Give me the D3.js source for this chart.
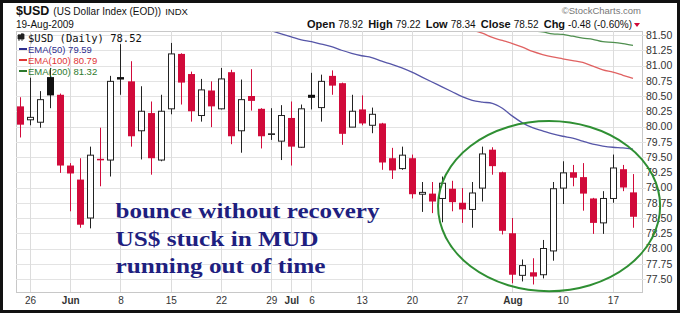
<!DOCTYPE html>
<html>
<head>
<meta charset="utf-8">
<script src="https://cdn.jsdelivr.net/npm/d3@7"></script>
<style>
  body { margin: 0; background: #fff; }
  svg text { font-family: "Liberation Sans", Arial, sans-serif; }
</style>
</head>
<body>
<svg id="chart" width="680" height="313"></svg>
<script>
// trading days, 22 May - 19 Aug 2009
const dates = [
  '2009-05-22', '2009-05-26', '2009-05-27', '2009-05-28', '2009-05-29',
  '2009-06-01', '2009-06-02', '2009-06-03', '2009-06-04', '2009-06-05',
  '2009-06-08', '2009-06-09', '2009-06-10', '2009-06-11', '2009-06-12',
  '2009-06-15', '2009-06-16', '2009-06-17', '2009-06-18', '2009-06-19',
  '2009-06-22', '2009-06-23', '2009-06-24', '2009-06-25', '2009-06-26',
  '2009-06-29', '2009-06-30', '2009-07-01', '2009-07-02',
  '2009-07-06', '2009-07-07', '2009-07-08', '2009-07-09', '2009-07-10',
  '2009-07-13', '2009-07-14', '2009-07-15', '2009-07-16', '2009-07-17',
  '2009-07-20', '2009-07-21', '2009-07-22', '2009-07-23', '2009-07-24',
  '2009-07-27', '2009-07-28', '2009-07-29', '2009-07-30', '2009-07-31',
  '2009-08-03', '2009-08-04', '2009-08-05', '2009-08-06', '2009-08-07',
  '2009-08-10', '2009-08-11', '2009-08-12', '2009-08-13', '2009-08-14',
  '2009-08-17', '2009-08-18', '2009-08-19'
];

const opens = [
  80.33, 80.11, 80.07, 80.81, 80.52, 79.36, 79.13, 78.50, 79.47, 79.45,
  80.81, 80.74, 79.93, 80.22, 79.45, 80.29, 81.19, 80.86, 80.18, 80.59,
  80.29, 80.89, 79.93, 80.50, 80.29, 79.87, 79.76, 80.14, 79.66, 80.52,
  80.31, 80.83, 80.71, 79.99, 80.28, 80.02, 80.05, 79.48, 79.31, 79.48,
  78.89, 78.90, 78.82, 78.98, 78.75, 78.64, 78.99, 79.62, 79.25, 78.25,
  77.56, 77.61, 77.57, 77.96, 78.99, 79.25, 79.17, 78.82, 78.42, 78.82,
  79.30, 78.92
];
const highs = [
  80.48, 80.80, 80.58, 80.96, 80.54, 79.40, 79.48, 79.67, 79.98, 80.83,
  81.35, 81.07, 80.66, 80.41, 80.52, 81.37, 81.20, 80.90, 80.78, 80.74,
  80.96, 80.93, 80.77, 80.94, 80.30, 80.30, 80.35, 80.41, 80.36, 80.88,
  80.85, 80.92, 80.72, 80.52, 80.51, 80.31, 80.06, 79.65, 79.67, 79.54,
  79.09, 79.09, 79.18, 79.11, 78.99, 79.09, 79.67, 79.66, 79.26, 78.50,
  77.82, 77.84, 78.14, 79.09, 79.43, 79.37, 79.40, 78.83, 78.94, 79.54,
  79.37, 79.22
];
const lows = [
  79.82, 80.02, 79.98, 80.30, 79.24, 78.61, 78.34, 78.33, 79.02, 79.18,
  80.52, 79.67, 79.46, 79.21, 79.43, 80.20, 80.36, 80.08, 80.08, 79.99,
  80.28, 79.71, 79.57, 80.26, 79.64, 79.78, 79.45, 79.36, 79.65, 80.28,
  80.08, 80.52, 79.70, 79.99, 80.02, 79.89, 79.29, 79.14, 79.29, 78.82,
  78.60, 78.58, 78.43, 78.61, 78.42, 78.34, 78.77, 79.21, 78.23, 77.43,
  77.46, 77.41, 77.51, 77.80, 78.73, 79.02, 78.62, 78.24, 78.24, 78.75,
  78.94, 78.34
];
const closes = [
  80.03, 80.15, 80.44, 80.51, 79.36, 79.23, 78.39, 79.53, 79.45, 80.74,
  80.77, 79.84, 80.25, 79.48, 80.25, 81.19, 80.72, 80.25, 80.60, 80.33,
  80.78, 79.84, 80.44, 80.42, 79.84, 79.88, 80.18, 79.67, 80.29, 80.47,
  80.74, 80.67, 79.88, 80.25, 80.05, 80.20, 79.41, 79.28, 79.53, 78.89,
  78.92, 78.77, 79.07, 78.76, 78.64, 78.91, 79.55, 79.35, 78.29, 77.57,
  77.72, 77.54, 78.00, 78.98, 79.24, 79.16, 78.90, 78.42, 78.82, 79.32,
  79.00, 78.52
];

// moving averages (null = above the visible range)
const ema50 = [
  null, null, null, null, null, null, null, null, null, null,
  null, null, null, null, null, null, null, null, null, null,
  null, null, null, null, 81.62, 81.57, 81.52, 81.47, 81.42, 81.39,
  81.35, 81.31, 81.25, 81.20, 81.16, 81.13, 81.07, 81.02, 80.96, 80.89,
  80.81, 80.73, 80.65, 80.57, 80.49, 80.43, 80.40, 80.38, 80.30, 80.17,
  80.06, 79.98, 79.93, 79.88, 79.84, 79.81, 79.76, 79.71, 79.68, 79.66,
  79.65, 79.63
];
const ema100 = [
  null, null, null, null, null, null, null, null, null, null,
  null, null, null, null, null, null, null, null, null, null,
  null, null, null, null, null, null, null, null, null, null,
  null, null, null, null, null, null, null, null, null, null,
  null, null, null, null, 81.63, 81.58, 81.53, 81.46, 81.41, 81.36,
  81.30, 81.23, 81.18, 81.14, 81.11, 81.08, 81.05, 80.99, 80.93, 80.89,
  80.84, 80.79
];
const ema200 = [
  null, null, null, null, null, null, null, null, null, null,
  null, null, null, null, null, null, null, null, null, null,
  null, null, null, null, null, null, null, null, null, null,
  null, null, null, null, null, null, null, null, null, null,
  null, null, null, null, null, null, null, null, null, null,
  81.60, 81.57, 81.55, 81.52, 81.51, 81.48, 81.45, 81.43, 81.39, 81.38,
  81.36, 81.33
];

const tickDates = ['2009-05-26', '2009-06-01', '2009-06-08', '2009-06-15', '2009-06-22',
  '2009-06-29', '2009-07-01', '2009-07-06', '2009-07-13', '2009-07-20',
  '2009-07-27', '2009-08-03', '2009-08-10', '2009-08-17'];
const tickLabels = ['26', 'Jun', '8', '15', '22', '29', 'Jul', '6', '13', '20', '27', 'Aug', '10', '17'];
const monthLabels = ['Jun', 'Jul', 'Aug'];
const priceTicks = [77.50, 77.75, 78.00, 78.25, 78.50, 78.75, 79.00, 79.25, 79.50,
  79.75, 80.00, 80.25, 80.50, 80.75, 81.00, 81.25, 81.50];

const noteLines = ['bounce without recovery', 'US$ stuck in MUD', 'running out of time'];

const red = '#d10a3a';
const plot = { left: 16, right: 642, top: 31, bottom: 292 };

const svg = d3.select('#chart');

const x = d3.scaleLinear()
  .domain([0, dates.length - 1])
  .range([20, 633]);
const y = d3.scaleLinear()
  .domain([77.5, 81.5])
  .range([279, 35]);

const candles = dates.map((d, i) => ({
  i: i,
  open: opens[i],
  high: highs[i],
  low: lows[i],
  close: closes[i],
  up: i > 0 && closes[i] >= closes[i - 1]
}));

// plot frame
svg.append('rect')
  .attr('x', plot.left + 0.5).attr('y', plot.top + 0.5)
  .attr('width', plot.right - plot.left).attr('height', plot.bottom - plot.top)
  .attr('fill', '#fff').attr('stroke', '#c8c8c8');

// grid
const grid = svg.append('g');
grid.selectAll('line.h')
  .data(priceTicks)
  .enter()
  .append('line')
    .attr('x1', plot.left).attr('x2', plot.right + 4)
    .attr('y1', d => Math.round(y(d)) + 0.5).attr('y2', d => Math.round(y(d)) + 0.5)
    .attr('stroke', '#e3e3e3');
grid.selectAll('line.v')
  .data(tickDates)
  .enter()
  .append('line')
    .attr('x1', d => Math.round(x(dates.indexOf(d))) + 0.5)
    .attr('x2', d => Math.round(x(dates.indexOf(d))) + 0.5)
    .attr('y1', plot.top).attr('y2', plot.bottom)
    .attr('stroke', '#dcdcdc');

// axes
const yAxis = d3.axisRight(y)
  .tickValues(priceTicks)
  .tickFormat(d3.format('.2f'))
  .tickSize(0)
  .tickPadding(4);
svg.append('g')
  .attr('transform', `translate(${plot.right},0)`)
  .call(yAxis)
  .call(g => g.select('.domain').remove())
  .selectAll('text')
    .attr('fill', '#333')
    .style('font-size', '10.5px')
    .style('font-family', '"Liberation Sans", Arial, sans-serif');

const xAxis = d3.axisBottom(x)
  .tickValues(tickDates.map(d => dates.indexOf(d)))
  .tickFormat((d, k) => tickLabels[k])
  .tickSize(0)
  .tickPadding(5);
svg.append('g')
  .attr('transform', `translate(0,${plot.bottom})`)
  .call(xAxis)
  .call(g => g.select('.domain').remove())
  .selectAll('text')
    .attr('fill', '#333')
    .style('font-size', '10px')
    .style('font-family', '"Liberation Sans", Arial, sans-serif')
    .style('font-weight', (d, k) => monthLabels.includes(tickLabels[k]) ? 'bold' : 'normal');

// clip for price marks
svg.append('clipPath').attr('id', 'plotClip')
  .append('rect')
    .attr('x', plot.left + 1).attr('y', plot.top + 1)
    .attr('width', plot.right - plot.left - 1).attr('height', plot.bottom - plot.top - 1);

const marks = svg.append('g').attr('clip-path', 'url(#plotClip)');

// moving averages
const emaLine = d3.line()
  .defined(d => d != null)
  .x((d, i) => x(i))
  .y(d => y(d))
  .curve(d3.curveMonotoneX);
[[ema50, '#5656a8'], [ema100, '#e06262'], [ema200, '#4f8f4f']].forEach(([s, c]) => {
  marks.append('path')
    .datum(s)
    .attr('d', emaLine)
    .attr('fill', 'none')
    .attr('stroke', c)
    .attr('stroke-width', 1.3);
});

// candles
const cg = marks.append('g')
  .selectAll('g')
  .data(candles)
  .enter()
  .append('g');
cg.append('line')
  .attr('x1', d => Math.round(x(d.i)) + 0.5)
  .attr('x2', d => Math.round(x(d.i)) + 0.5)
  .attr('y1', d => y(d.high))
  .attr('y2', d => y(d.low))
  .attr('stroke', d => d.up ? '#222' : red);
cg.filter(d => d.close < d.open)
  .append('rect')
    .attr('x', d => Math.round(x(d.i)) - 3)
    .attr('width', 7)
    .attr('y', d => y(d.open))
    .attr('height', d => Math.max(1.5, y(d.close) - y(d.open)))
    .attr('fill', d => d.up ? '#111' : red);
cg.filter(d => d.close >= d.open)
  .append('rect')
    .attr('x', d => Math.round(x(d.i)) - 2.5)
    .attr('width', 6)
    .attr('y', d => y(d.close))
    .attr('height', d => Math.max(0.5, y(d.open) - y(d.close)))
    .attr('fill', '#fff')
    .attr('stroke', d => d.up ? '#222' : red);

// legend in the plot
const legend = svg.append('g');
legend.append('path')
  .attr('d', 'M19,34v7M18,35h3v4h-3zM22,33v8M21,34h3v5h-3z')
  .attr('stroke', '#222').attr('fill', '#222').attr('stroke-width', 0.8);
legend.append('text')
  .attr('x', 28).attr('y', 42)
  .style('font-family', '"DejaVu Sans Mono", monospace')
  .style('font-size', '10.5px')
  .attr('fill', '#111')
  .text('$USD (Daily) 78.52');
const legendItems = [
  ['EMA(50) 79.59', '#2e2e8e'],
  ['EMA(100) 80.79', '#e03535'],
  ['EMA(200) 81.32', '#2d7a2d']
];
legendItems.forEach(([t, c], k) => {
  legend.append('line')
    .attr('x1', 19).attr('x2', 27)
    .attr('y1', 49 + k * 11).attr('y2', 49 + k * 11)
    .attr('stroke', c).attr('stroke-width', 2);
  legend.append('text')
    .attr('x', 28).attr('y', 52.5 + k * 11)
    .style('font-size', '9.5px')
    .attr('fill', c)
    .text(t);
});

// header
const head = svg.append('g');
const title = head.append('text').attr('x', 16).attr('y', 15).attr('fill', '#111');
title.append('tspan').style('font-weight', 'bold').style('font-size', '12.5px').text('$USD');
title.append('tspan').style('font-size', '10px').attr('dx', 4).text('(US Dollar Index (EOD))');
title.append('tspan').style('font-size', '9.5px').attr('dx', 4).text('INDX');
head.append('text').attr('x', 16).attr('y', 27.5)
  .style('font-size', '10px').attr('fill', '#111')
  .text('19-Aug-2009');
head.append('text').attr('x', 641).attr('y', 14)
  .attr('text-anchor', 'end')
  .style('font-size', '9.5px').attr('fill', '#777')
  .text('\u00A9StockCharts.com');

const quote = [['Open', '78.92'], ['High', '79.22'], ['Low', '78.34'], ['Close', '78.52'], ['Chg', '-0.48 (-0.60%)']];
const qt = head.append('text').attr('x', 632).attr('y', 27.5)
  .attr('text-anchor', 'end').attr('fill', '#111');
quote.forEach(([k, v], n) => {
  qt.append('tspan').style('font-weight', 'bold').style('font-size', '11px')
    .attr('dx', n ? 5 : 0).text(k);
  qt.append('tspan').style('font-size', '10px').attr('dx', 3).text(v);
});
head.append('path')
  .attr('d', 'M634,23h6l-3,4z')
  .attr('fill', red);

// annotation text
const noteX = 9.5;
const noteY = [78.50, 78.04, 77.60];
const noteW = [264, 203, 210];
svg.append('g')
  .selectAll('text')
  .data(noteLines)
  .enter()
  .append('text')
    .attr('x', x(noteX))
    .attr('y', (d, k) => y(noteY[k]))
    .attr('textLength', (d, k) => noteW[k])
    .attr('lengthAdjust', 'spacingAndGlyphs')
    .style('font-family', '"Liberation Serif", "Times New Roman", serif')
    .style('font-weight', 'bold')
    .style('font-size', '21px')
    .attr('fill', '#1f1f80')
    .text(d => d);

// highlight ellipse around the August bounce
const ring = { from: 41.6, to: 63.7, hi: 80.09, lo: 77.30 };
svg.append('ellipse')
  .attr('cx', (x(ring.from) + x(ring.to)) / 2)
  .attr('cy', (y(ring.hi) + y(ring.lo)) / 2)
  .attr('rx', (x(ring.to) - x(ring.from)) / 2)
  .attr('ry', (y(ring.lo) - y(ring.hi)) / 2)
  .attr('fill', 'none')
  .attr('stroke', '#2f8f33')
  .attr('stroke-width', 2);

// outer border
svg.append('rect')
  .attr('x', 1.5).attr('y', 1.5).attr('width', 677).attr('height', 310)
  .attr('fill', 'none').attr('stroke', '#111').attr('stroke-width', 3);
</script>
</body>
</html>
